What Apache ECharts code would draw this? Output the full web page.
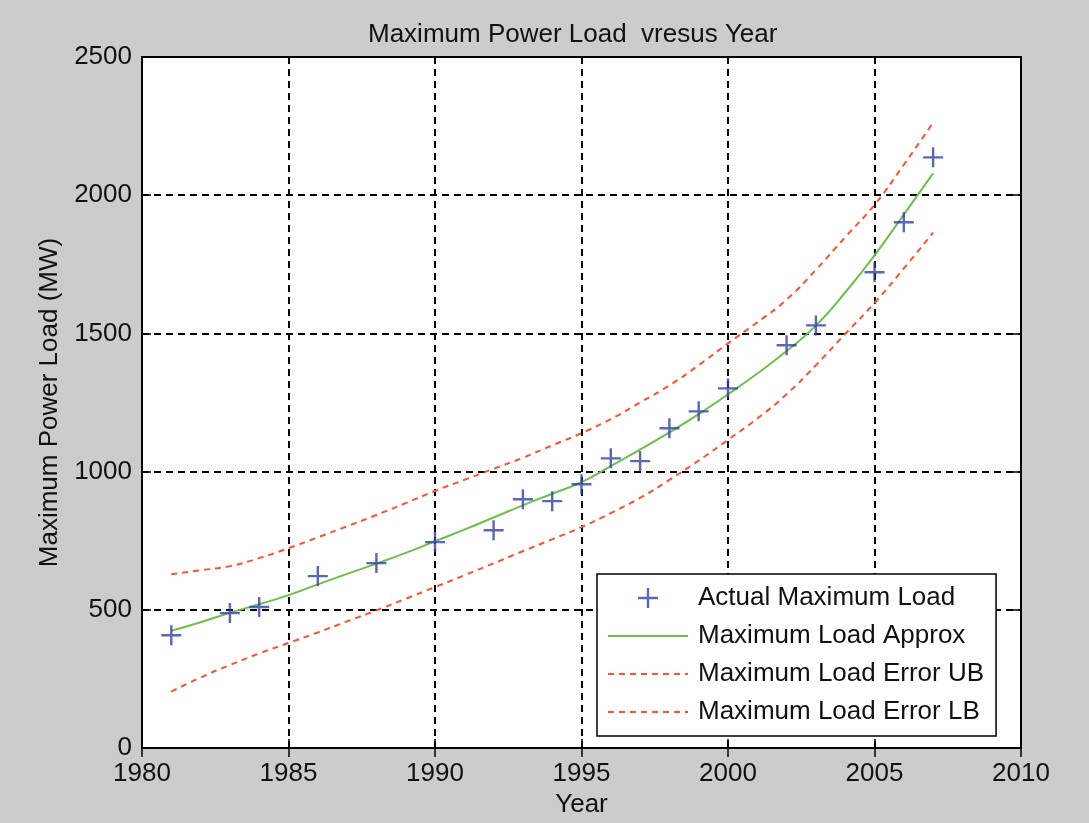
<!DOCTYPE html>
<html>
<head>
<meta charset="utf-8">
<script src="https://cdn.jsdelivr.net/npm/echarts@6/dist/echarts.min.js"></script>
<style>
  html, body { margin: 0; padding: 0; background: #cccccc; }
  #chart { width: 1089px; height: 823px; }
</style>
</head>
<body>
<div id="chart"></div>
<script>
// measured points
const actualYears = [1981, 1983, 1984, 1986, 1988, 1990, 1992, 1993, 1994, 1995,
  1996, 1997, 1998, 1999, 2000, 2002, 2003, 2005, 2006, 2007];
const actualLoad = [408, 488, 510, 622, 669, 745, 788, 900, 893, 954,
  1048, 1038, 1157, 1218, 1301, 1457, 1529, 1721, 1902, 2137];

// fitted curve and error bounds, one value per year 1981..2007
const fitYears = [1981, 1982, 1983, 1984, 1985, 1986, 1987, 1988, 1989, 1990,
  1991, 1992, 1993, 1994, 1995, 1996, 1997, 1998, 1999, 2000,
  2001, 2002, 2003, 2004, 2005, 2006, 2007];
const approxLoad = [424, 455, 489, 520, 553, 592, 630, 667, 706, 748,
  790, 834, 878, 920, 962, 1020, 1080, 1142, 1208, 1280,
  1355, 1436, 1528, 1648, 1782, 1930, 2079];
const upperBound = [629, 643, 658, 687, 723, 762, 802, 843, 886, 930,
  970, 1010, 1050, 1095, 1139, 1190, 1250, 1312, 1385, 1464,
  1540, 1622, 1730, 1848, 1965, 2110, 2263];
const lowerBound = [204, 255, 300, 342, 380, 418, 458, 498, 540, 582,
  625, 668, 712, 755, 799, 850, 905, 970, 1040, 1115,
  1192, 1280, 1385, 1498, 1610, 1735, 1865];

const xTicks = [1980, 1985, 1990, 1995, 2000, 2005, 2010];
const yTicks = [0, 500, 1000, 1500, 2000, 2500];

const pair = (xs, ys) => xs.map((x, i) => [x, ys[i]]);

const font = "'Liberation Sans', Arial, sans-serif";
const plusPath = "path://M8.8,0h2.4v8.8h8.8v2.4h-8.8v8.8h-2.4v-8.8h-8.8v-2.4h8.8z";
const solidIcon = "path://M0,0h80v2h-80z";
// dashed legend sample: 6px dash, 5px gap over 80px
let dashIcon = "path://";
for (let x = 0; x < 80; x += 11) dashIcon += "M" + x + ",0h" + Math.min(6, 80 - x) + "v2h-" + Math.min(6, 80 - x) + "z";
const gridDash = { color: "#000", width: 2, type: [7, 5] };
const tickStyle = { show: true, inside: true, length: 9, lineStyle: { color: "#000", width: 1.5 } };

const chart = echarts.init(document.getElementById("chart"));
chart.setOption({
  animation: false,
  backgroundColor: "#cccccc",
  textStyle: { fontFamily: font },
  title: {
    text: "Maximum Power Load  vresus Year",
    left: 363,
    top: 17,
    textStyle: { fontFamily: font, fontSize: 26, fontWeight: "normal", color: "#111" },
  },
  grid: {
    left: 142, right: 68, top: 57, bottom: 75,
    show: true,
    backgroundColor: "#ffffff",
    borderColor: "#000",
    borderWidth: 2,
  },
  xAxis: [
    {
      type: "value",
      min: xTicks[0],
      max: xTicks[xTicks.length - 1],
      interval: 5,
      name: "Year",
      nameLocation: "middle",
      nameGap: 44,
      nameTextStyle: { fontFamily: font, fontSize: 26, color: "#111" },
      axisLine: { show: false },
      axisTick: tickStyle,
      axisLabel: { fontFamily: font, fontSize: 26, color: "#111", margin: 13, formatter: (v) => String(v) },
      splitLine: { show: true, lineStyle: gridDash },
    },
    {
      type: "value",
      position: "top",
      min: xTicks[0],
      max: xTicks[xTicks.length - 1],
      interval: 5,
      axisLine: { show: false },
      axisTick: tickStyle,
      axisLabel: { show: false },
      splitLine: { show: false },
    },
  ],
  yAxis: [
    {
      type: "value",
      min: yTicks[0],
      max: yTicks[yTicks.length - 1],
      interval: 500,
      name: "Maximum Power Load (MW)",
      nameLocation: "middle",
      nameGap: 78,
      nameTextStyle: { fontFamily: font, fontSize: 26, color: "#111" },
      axisLine: { show: false },
      axisTick: tickStyle,
      axisLabel: { fontFamily: font, fontSize: 26, color: "#111", margin: 10, formatter: (v) => String(v) },
      splitLine: { show: true, lineStyle: gridDash },
    },
    {
      type: "value",
      position: "right",
      min: yTicks[0],
      max: yTicks[yTicks.length - 1],
      interval: 500,
      axisLine: { show: false },
      axisTick: tickStyle,
      axisLabel: { show: false },
      splitLine: { show: false },
    },
  ],
  legend: {
    orient: "vertical",
    left: 597,
    top: 574,
    padding: [11, 12, 11, 11],
    itemWidth: 80,
    itemHeight: 20,
    itemGap: 12,
    backgroundColor: "#ffffff",
    borderColor: "#000",
    borderWidth: 1.5,
    borderRadius: 0,
    textStyle: { fontFamily: font, fontSize: 26, lineHeight: 26, color: "#111", padding: [0, 0, 0, 5] },
    data: [
      { name: "Actual Maximum Load", icon: plusPath },
      { name: "Maximum Load Approx", icon: solidIcon },
      { name: "Maximum Load Error UB", icon: dashIcon },
      { name: "Maximum Load Error LB", icon: dashIcon },
    ],
  },
  series: [
    {
      name: "Maximum Load Approx",
      type: "line",
      smooth: true,
      symbol: "none",
      data: pair(fitYears, approxLoad),
      lineStyle: { color: "#6cc04a", width: 2 },
      itemStyle: { color: "#6cc04a" },
      z: 3,
    },
    {
      name: "Maximum Load Error UB",
      type: "line",
      smooth: true,
      symbol: "none",
      data: pair(fitYears, upperBound),
      lineStyle: { color: "#ff5030", width: 2, type: [6, 5] },
      itemStyle: { color: "#ff5030" },
      z: 3,
    },
    {
      name: "Maximum Load Error LB",
      type: "line",
      smooth: true,
      symbol: "none",
      data: pair(fitYears, lowerBound),
      lineStyle: { color: "#ff5030", width: 2, type: [6, 5] },
      itemStyle: { color: "#ff5030" },
      z: 3,
    },
    {
      name: "Actual Maximum Load",
      type: "scatter",
      symbol: plusPath,
      symbolSize: 20,
      data: pair(actualYears, actualLoad),
      itemStyle: { color: "#2f40aa" },
      z: 4,
    },
  ],
});
</script>
</body>
</html>
